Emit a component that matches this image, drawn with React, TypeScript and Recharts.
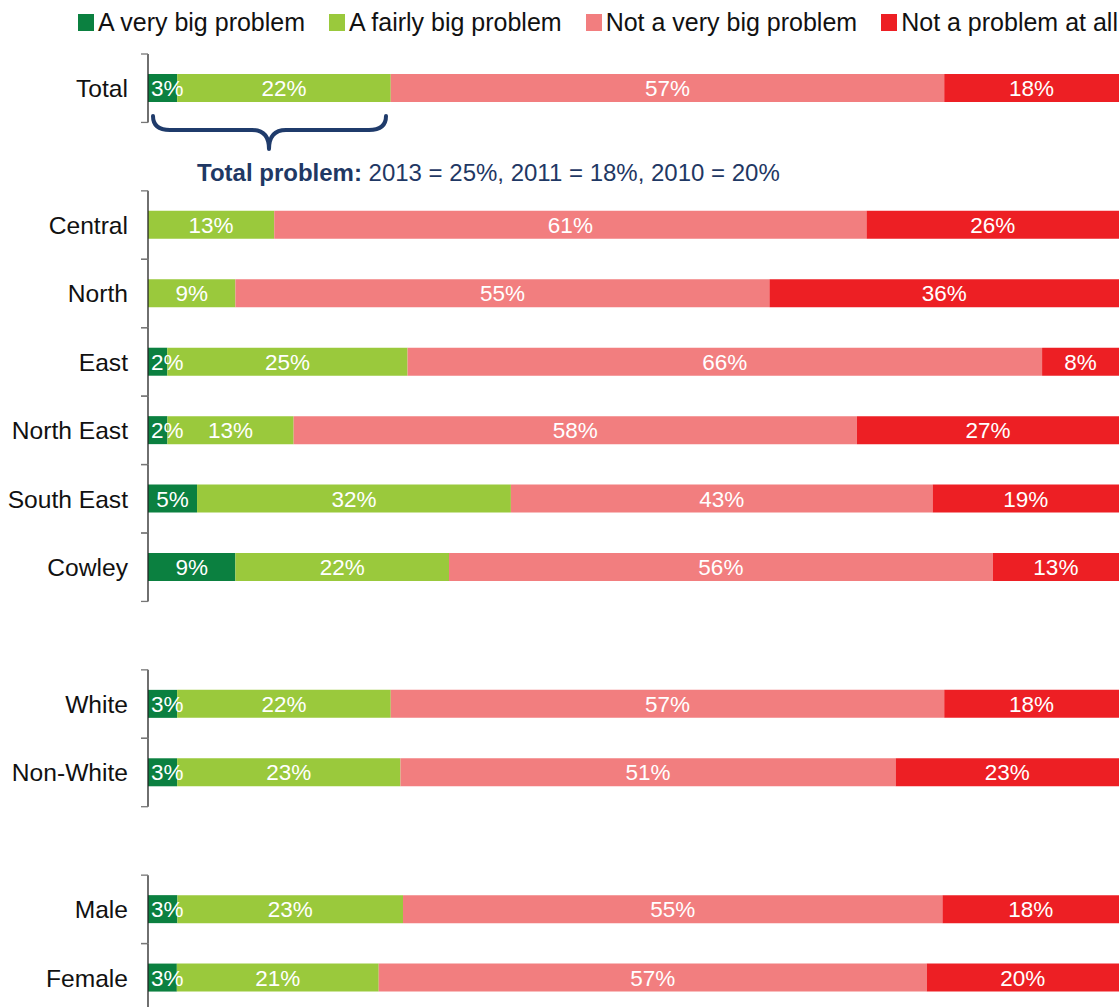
import { BarChart, Bar, XAxis, YAxis, LabelList, Customized } from 'recharts';

const FONT = '"Liberation Sans", Arial, sans-serif';

// rows (blank names are spacer rows between the groups)
const categories = ['Total', '', 'Central', 'North', 'East', 'North East', 'South East', 'Cowley', '', 'White', 'Non-White', '', 'Male', 'Female'];
const veryBig = [3, null, 0, 0, 2, 2, 5, 9, null, 3, 3, null, 3, 3];
const fairlyBig = [22, null, 13, 9, 25, 13, 32, 22, null, 22, 23, null, 23, 21];
const notVeryBig = [57, null, 61, 55, 66, 58, 43, 56, null, 57, 51, null, 55, 57];
const notAtAll = [18, null, 26, 36, 8, 27, 19, 13, null, 18, 23, null, 18, 20];

const seriesNames = ['A very big problem', 'A fairly big problem', 'Not a very big problem', 'Not a problem at all'];
const seriesKeys = ['veryBig', 'fairlyBig', 'notVeryBig', 'notAtAll'];
const COLORS = ['#0B8040', '#9AC93C', '#F27E7F', '#ED1F24'];

const annotationBold = 'Total problem:';
const annotationRest = ' 2013 = 25%, 2011 = 18%, 2010 = 20%';

const W = 1119;
const H = 1012;
const TOP = 54;
const PLOT_LEFT = 148;
const BAND = (H - TOP) / categories.length;
const LABEL_SIZE = 22.5;

const series = [veryBig, fairlyBig, notVeryBig, notAtAll];
const data = categories.map((name, i) => {
  const row: any = { name };
  seriesKeys.forEach((k, s) => {
    const v = series[s][i];
    row[k] = v;
    row[k + 'Label'] = v ? `${v}%` : '';
  });
  return row;
});

const AxisTick = (props: any) => {
  const { y, payload } = props;
  const name = payload?.value;
  if (!name) return null;
  const half = BAND / 2;
  return (
    <g>
      <text x={PLOT_LEFT - 20} y={y} dy="0.36em" textAnchor="end" fontSize={24.6} fill="#111" fontFamily={FONT}>{name}</text>
      <line x1={PLOT_LEFT} x2={PLOT_LEFT} y1={y - half} y2={y + half} stroke="#222" strokeWidth={1.3} />
      <line x1={PLOT_LEFT - 7} x2={PLOT_LEFT} y1={y - half} y2={y - half} stroke="#777" strokeWidth={1.3} />
      <line x1={PLOT_LEFT - 7} x2={PLOT_LEFT} y1={y + half} y2={y + half} stroke="#777" strokeWidth={1.3} />
    </g>
  );
};

// labels that do not fit in a thin segment start just inside it, as in the original
const BarLabel = (props: any) => {
  const { x, y, width, height, value } = props;
  if (!value || !width) return null;
  const s = String(value);
  const tw = ((s.length - 1) * 0.556 + 0.889) * LABEL_SIZE;
  let cx = x + width / 2;
  if (cx - tw / 2 < x + 3) cx = x + 3 + tw / 2;
  return (
    <text x={cx} y={y + height / 2} dy="0.36em" textAnchor="middle" fill="#fff" fontSize={LABEL_SIZE} fontFamily={FONT}>{s}</text>
  );
};

const Brace = () => (
  <g>
    <path
      d="M153,116 Q153,130 170,130 L252,130 Q269,130 269,149 Q269,130 286,130 L369,130 Q386,130 386,116"
      fill="none" stroke="#1F3B6B" strokeWidth={4} strokeLinecap="round" strokeLinejoin="round"
    />
    <text x={197} y={181} fontSize={24} fill="#1F3864" fontFamily={FONT}>
      <tspan fontWeight="bold">{annotationBold}</tspan>
      <tspan>{annotationRest}</tspan>
    </text>
  </g>
);

export default function App() {
  return (
    <div style={{ position: 'absolute', left: 0, top: 0, width: W, height: 1007, overflow: 'hidden', background: '#fff', fontFamily: FONT }}>
      <div style={{ position: 'absolute', top: 8, left: 78, display: 'flex', alignItems: 'center', fontSize: 25, color: '#111', whiteSpace: 'nowrap' }}>
        {seriesNames.map((n, i) => (
          <div key={n} style={{ display: 'flex', alignItems: 'center', marginRight: 24 }}>
            <div style={{ width: 16, height: 17, background: COLORS[i], marginRight: 4 }} />
            <span>{n}</span>
          </div>
        ))}
      </div>
      <BarChart
        width={W}
        height={H}
        data={data}
        layout="vertical"
        stackOffset="expand"
        barSize={28}
        margin={{ top: TOP, right: 0, bottom: 0, left: 0 }}
      >
        <XAxis type="number" domain={[0, 1]} hide />
        <YAxis type="category" dataKey="name" width={PLOT_LEFT} axisLine={false} tickLine={false} tick={<AxisTick />} interval={0} />
        {seriesKeys.map((k, i) => (
          <Bar key={k} dataKey={k} name={seriesNames[i]} stackId="a" fill={COLORS[i]} isAnimationActive={false}>
            <LabelList dataKey={k + 'Label'} content={<BarLabel />} />
          </Bar>
        ))}
        <Customized component={<Brace />} />
      </BarChart>
    </div>
  );
}
